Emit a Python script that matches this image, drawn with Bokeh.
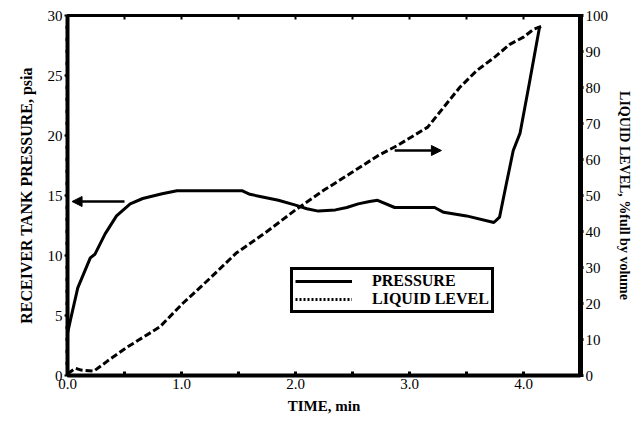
from bokeh.plotting import figure
from bokeh.models import (Range1d, LinearAxis, FixedTicker, PrintfTickFormatter,
                          Legend, LegendItem, Arrow, NormalHead, ColumnDataSource)
from bokeh.embed import file_html
from bokeh.resources import INLINE

# ---- data ----
time_p = [0.0, 0.03, 0.09, 0.2, 0.24, 0.33, 0.43, 0.55, 0.66, 0.83, 0.96, 1.2, 1.53, 1.6,
          1.7, 1.85, 2.0, 2.1, 2.2, 2.35, 2.45, 2.55, 2.65, 2.72, 2.87, 3.22, 3.3, 3.5,
          3.74, 3.79, 3.85, 3.91, 3.97, 4.05, 4.14]
pressure = [3.5, 4.8, 7.3, 9.8, 10.1, 11.8, 13.3, 14.3, 14.75, 15.15, 15.4, 15.4, 15.4, 15.1,
            14.9, 14.6, 14.2, 13.9, 13.7, 13.8, 14.0, 14.3, 14.5, 14.6, 14.0, 14.0, 13.6, 13.3,
            12.75, 13.2, 16.0, 18.75, 20.2, 24.3, 29.0]

time_l = [0.0, 0.07, 0.12, 0.23, 0.35, 0.52, 0.81, 1.01, 1.25, 1.48, 1.75, 2.0, 2.25, 2.5,
          2.72, 2.9, 3.16, 3.3, 3.44, 3.59, 3.75, 3.88, 4.0, 4.09, 4.16]
level = [0.5, 2.0, 1.5, 1.2, 4.0, 7.8, 13.5, 20.0, 27.0, 34.0, 40.0, 46.0, 51.5, 56.5,
         61.0, 64.0, 69.0, 74.5, 80.0, 84.7, 88.5, 92.0, 94.0, 96.2, 97.0]

x_ticks = [0, 1, 2, 3, 4]
x_minor = [0.5, 1.5, 2.5, 3.5, 4.5]
p_ticks = [0, 5, 10, 15, 20, 25, 30]
p_minor = list(range(1, 30))
l_ticks = [0, 10, 20, 30, 40, 50, 60, 70, 80, 90, 100]

# arrows pointing to the axis each curve belongs to: (x_start, x_end, y)
arrow_pressure = (0.5, 0.04, 14.5)
arrow_level = (2.87, 3.28, 62.5)

SERIF = "Liberation Serif"
NAN = float("nan")

p = figure(width=635, height=426, output_backend="svg", toolbar_location=None,
           x_range=Range1d(0, 4.5), y_range=Range1d(0, 30),
           min_border_left=67, min_border_right=52, min_border_top=15, min_border_bottom=51)
p.extra_y_ranges = {"level": Range1d(0, 100)}
p.grid.visible = False
p.outline_line_color = "black"
p.outline_line_width = 3
p.outline_line_alpha = 1
p.background_fill_color = "white"
p.border_fill_color = "white"

def style_axis(ax, label_font_size="15px"):
    ax.axis_line_color = "black"
    ax.major_label_text_font = SERIF
    ax.major_label_text_font_size = label_font_size
    ax.major_label_text_color = "black"
    ax.axis_label_text_font = SERIF
    ax.axis_label_text_font_style = "bold"
    ax.axis_label_text_color = "black"
    ax.major_tick_line_color = "black"
    ax.minor_tick_line_color = "black"

# bottom axis
xa = p.xaxis[0]
style_axis(xa)
xa.ticker = FixedTicker(ticks=x_ticks, minor_ticks=x_minor)
xa.formatter = PrintfTickFormatter(format="%.1f")
xa.axis_line_width = 4
xa.major_tick_in = 4
xa.major_tick_out = 0
xa.major_tick_line_width = 3
xa.minor_tick_in = 4
xa.minor_tick_out = 0
xa.minor_tick_line_width = 3
xa.major_label_standoff = 3
xa.axis_label = "TIME, min"
xa.axis_label_text_font_size = "15px"
xa.axis_label_standoff = 6

# left axis
ya = p.yaxis[0]
style_axis(ya)
ya.ticker = FixedTicker(ticks=p_ticks, minor_ticks=p_minor)
ya.axis_line_width = 4
ya.major_tick_in = 0
ya.major_tick_out = 3
ya.major_tick_line_width = 2
ya.minor_tick_in = 0
ya.minor_tick_out = 2
ya.minor_tick_line_width = 3
ya.major_label_standoff = 2
ya.axis_label = "RECEIVER TANK PRESSURE, psia"
ya.axis_label_text_font_size = "16px"
ya.axis_label_standoff = 10

# right axis
ra = LinearAxis(y_range_name="level")
style_axis(ra)
ra.ticker = FixedTicker(ticks=l_ticks)
ra.axis_line_width = 5
ra.major_tick_in = 0
ra.major_tick_out = 3
ra.major_tick_line_width = 3
ra.minor_tick_line_color = None
ra.major_label_standoff = 2
ra.axis_label = "LIQUID LEVEL, %full by volume"
ra.axis_label_text_font_size = "14px"
ra.axis_label_standoff = 6
p.add_layout(ra, "right")

# top axis: ticks only
ta = LinearAxis()
ta.ticker = FixedTicker(ticks=x_ticks, minor_ticks=x_minor)
ta.axis_line_width = 3
ta.axis_line_color = "black"
ta.major_label_text_font_size = "0px"
ta.major_tick_in = 4
ta.major_tick_out = 0
ta.major_tick_line_width = 2
ta.minor_tick_in = 4
ta.minor_tick_out = 0
ta.minor_tick_line_width = 2
p.add_layout(ta, "above")

# data curves
src_p = ColumnDataSource(dict(t=time_p, v=pressure))
src_l = ColumnDataSource(dict(t=time_l, v=level))
p.line("t", "v", source=src_p, line_color="black", line_width=3)
p.line("t", "v", source=src_l, line_color="black", line_width=3, line_dash="7 3",
       y_range_name="level")

# arrows
p.add_layout(Arrow(end=NormalHead(size=10, fill_color="black", line_color="black"),
                   x_start=arrow_pressure[0], x_end=arrow_pressure[1],
                   y_start=arrow_pressure[2], y_end=arrow_pressure[2],
                   line_width=2.5, line_color="black"))
p.add_layout(Arrow(end=NormalHead(size=10, fill_color="black", line_color="black"),
                   x_start=arrow_level[0], x_end=arrow_level[1],
                   y_start=arrow_level[2], y_end=arrow_level[2],
                   line_width=2.5, line_color="black", y_range_name="level"))

# legend swatches: renderers holding only NaN so they draw nothing in the plot
blank = ColumnDataSource(dict(t=[NAN, NAN], v=[NAN, NAN]))
r_leg_p = p.line("t", "v", source=blank, line_color="black", line_width=3)
r_leg_l = p.line("t", "v", source=blank, line_color="black", line_width=3, line_dash="2 2")
legend = Legend(items=[LegendItem(label="PRESSURE", renderers=[r_leg_p]),
                       LegendItem(label="LIQUID LEVEL", renderers=[r_leg_l])],
                location=(223, 62))
legend.label_text_font = SERIF
legend.label_text_font_style = "bold"
legend.label_text_font_size = "16px"
legend.label_text_color = "black"
legend.glyph_width = 57
legend.glyph_height = 16
legend.label_height = 16
legend.label_standoff = 20
legend.spacing = 0
legend.padding = 2
legend.margin = 0
legend.border_line_color = "black"
legend.border_line_alpha = 1
legend.border_line_width = 3
legend.background_fill_color = "white"
legend.background_fill_alpha = 1
p.add_layout(legend, "center")

open("out.html", "w").write(file_html(p, INLINE))
